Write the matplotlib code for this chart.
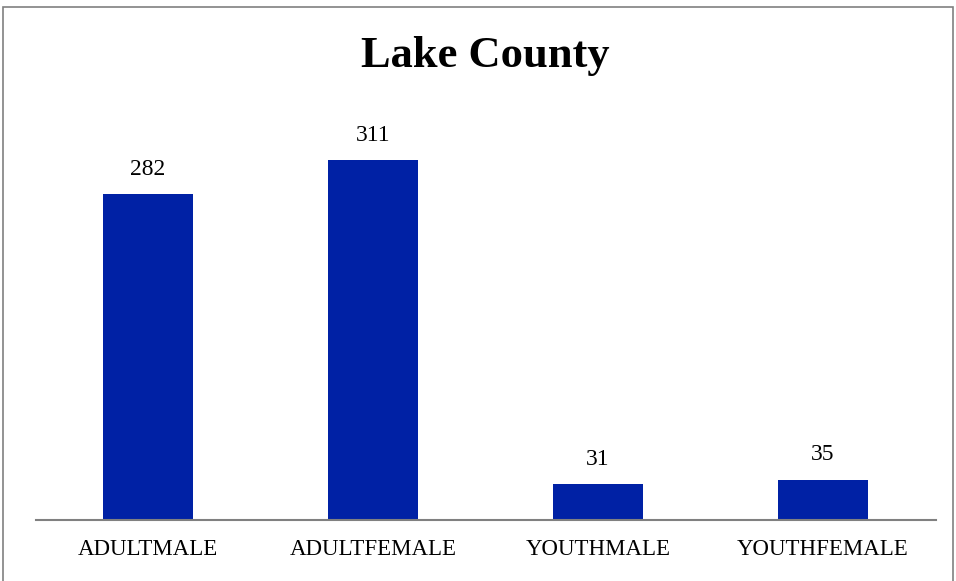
import matplotlib.pyplot as plt
from matplotlib.patches import Rectangle

# --- Data ---
categories = ['ADULTMALE', 'ADULTFEMALE', 'YOUTHMALE', 'YOUTHFEMALE']
counts = [282, 311, 31, 35]

bar_color = '#0021A5'
W, H = 956, 581

plt.rcParams['font.family'] = ['Liberation Serif', 'DejaVu Serif']

fig = plt.figure(figsize=(W / 100, H / 100), dpi=100)
ax = fig.add_axes([35.5 / W, (H - 520) / H, 900 / W, (520 - 115) / H])

x = range(len(categories))
ax.bar(x, counts, width=0.4, color=bar_color)
for xi, v in zip(x, counts):
    ax.annotate(str(v), (xi, v), xytext=(0, 13.7), textcoords='offset points',
                ha='center', va='baseline', fontsize=17)

ax.set_xlim(-0.5, len(categories) - 0.5)
ax.set_ylim(0, 350)
ax.set_xticks(list(x))
ax.set_xticklabels(categories, fontsize=16.5)
ax.tick_params(axis='x', length=0, pad=14)
ax.set_yticks([])
for side in ['left', 'right', 'top']:
    ax.spines[side].set_visible(False)
ax.spines['bottom'].set_color('#808080')
ax.spines['bottom'].set_linewidth(1.5)

fig.text(485.5 / W, 1 - 56 / H, 'Lake County', ha='center', va='center',
         fontsize=32, fontweight='bold')

# outer chart border
fig.patches.append(Rectangle((3 / W, -0.01), 950 / W, 1 - 7 / H + 0.01,
                             transform=fig.transFigure, fill=False,
                             edgecolor='#808080', linewidth=1.2))

fig.savefig('out.png', dpi=100)
